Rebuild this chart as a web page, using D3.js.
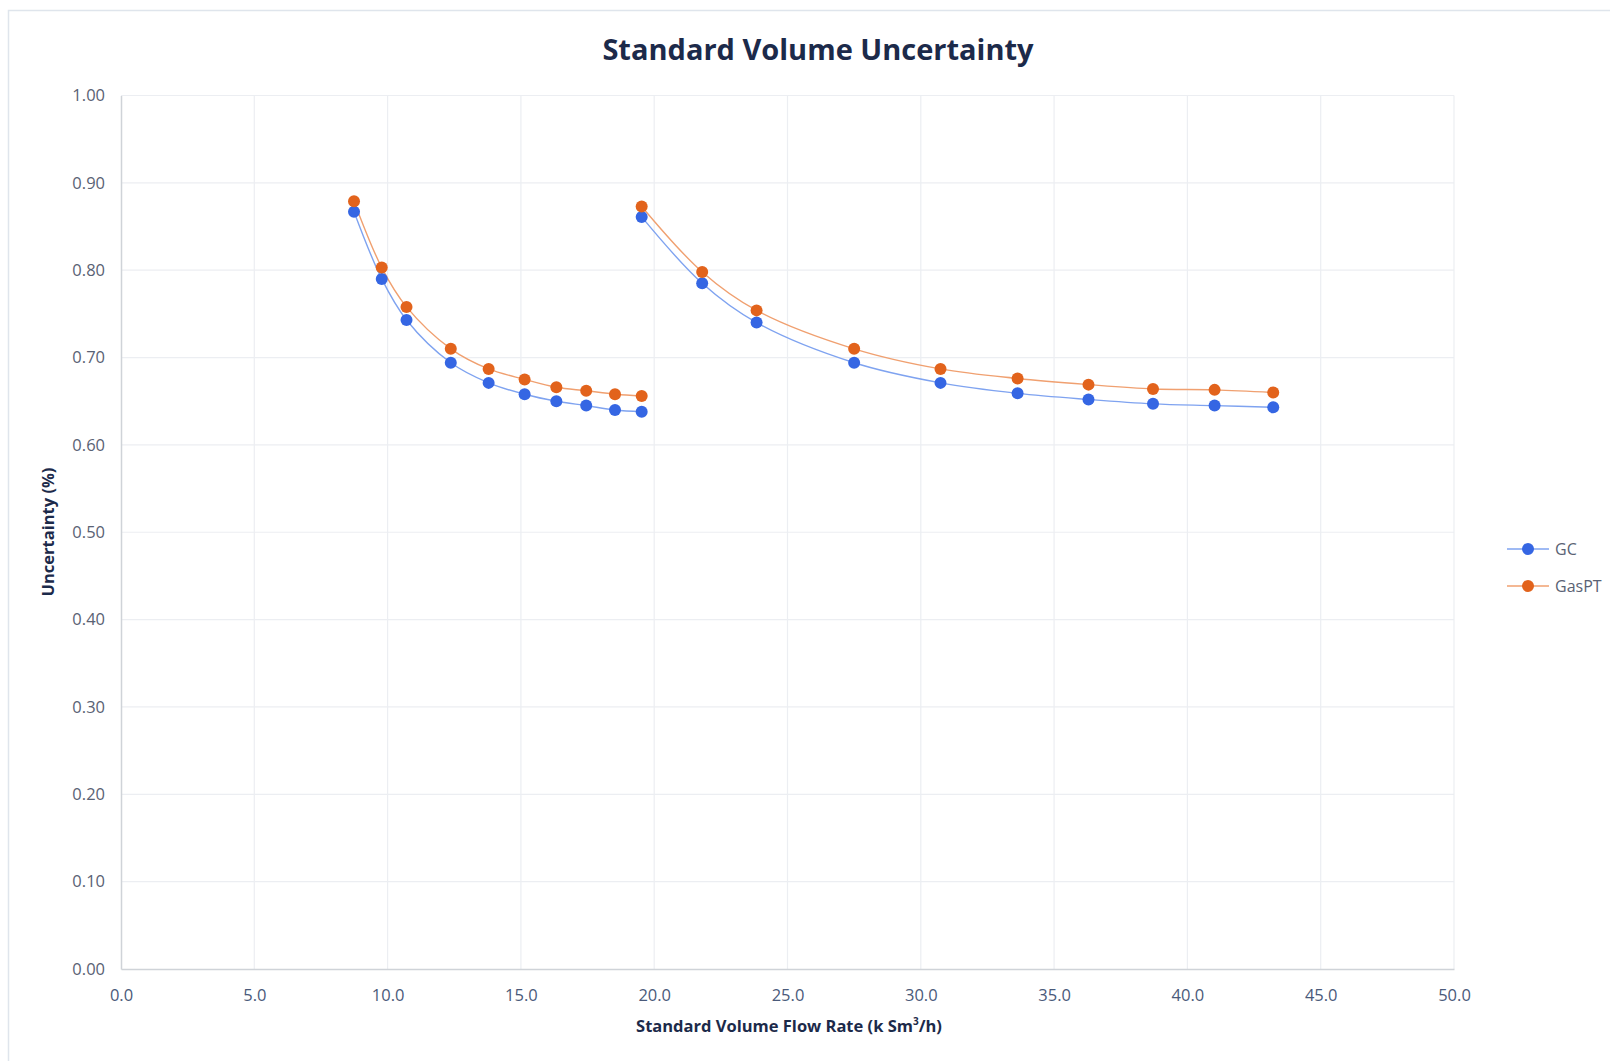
<!DOCTYPE html>
<html>
<head>
<meta charset="utf-8">
<script src="https://cdn.jsdelivr.net/npm/d3@7"></script>
<style>
  html, body { margin: 0; padding: 0; background: #ffffff; }
  svg { display: block; }
</style>
</head>
<body>
<svg id="chart" width="1610" height="1061"></svg>
<script>
// Flow rates (k Sm3/h) for the two meter runs
const flowLow  = [8.74, 9.78, 10.71, 12.37, 13.79, 15.14, 16.33, 17.45, 18.53, 19.53];
const flowHigh = [19.53, 21.80, 23.84, 27.50, 30.74, 33.63, 36.29, 38.71, 41.02, 43.22];

// Uncertainty (%) for each composition source
const gcLow     = [0.867, 0.790, 0.743, 0.694, 0.671, 0.658, 0.650, 0.645, 0.640, 0.638];
const gcHigh    = [0.861, 0.785, 0.740, 0.694, 0.671, 0.659, 0.652, 0.647, 0.645, 0.643];
const gasptLow  = [0.879, 0.803, 0.758, 0.710, 0.687, 0.675, 0.666, 0.662, 0.658, 0.656];
const gasptHigh = [0.873, 0.798, 0.754, 0.710, 0.687, 0.676, 0.669, 0.664, 0.663, 0.660];

const seriesNames = ["GC", "GasPT"];
const xTicks = [0, 5, 10, 15, 20, 25, 30, 35, 40, 45, 50];
const yTicks = [0, 0.1, 0.2, 0.3, 0.4, 0.5, 0.6, 0.7, 0.8, 0.9, 1.0];

const colors = {
  GC:    { marker: "#3566e3", line: "#7fa3f0" },
  GasPT: { marker: "#e2631c", line: "#f0a070" }
};

const svg = d3.select("#chart");
const plot = { left: 121, right: 1454, top: 95.5, bottom: 969 };

const x = d3.scaleLinear().domain([0, 50]).range([plot.left, plot.right]);
const y = d3.scaleLinear().domain([0, 1]).range([plot.bottom, plot.top]);

// outer chart frame
svg.append("rect")
  .attr("x", 8.5).attr("y", 10.5)
  .attr("width", 1620).attr("height", 1070)
  .attr("fill", "#ffffff")
  .attr("stroke", "#dfe5ec").attr("stroke-width", 1.5);

// title
svg.append("text")
  .attr("x", 818).attr("y", 60)
  .attr("text-anchor", "middle")
  .attr("font-family", "'Open Sans', sans-serif")
  .attr("font-weight", 700)
  .attr("font-size", 29)
  .attr("fill", "#1c2a4a")
  .text("Standard Volume Uncertainty");

// gridlines
const grid = svg.append("g");
grid.selectAll("line.h").data(yTicks.filter(d => d > 0)).join("line")
  .attr("x1", plot.left).attr("x2", plot.right)
  .attr("y1", d => y(d)).attr("y2", d => y(d))
  .attr("stroke", "#eceef2").attr("stroke-width", 1.2);
grid.selectAll("line.v").data(xTicks.filter(d => d > 0)).join("line")
  .attr("x1", d => x(d)).attr("x2", d => x(d))
  .attr("y1", plot.top).attr("y2", plot.bottom)
  .attr("stroke", "#eceef2").attr("stroke-width", 1.2);

// axes
const xAxis = svg.append("g")
  .attr("transform", `translate(0,${plot.bottom})`)
  .call(d3.axisBottom(x).tickValues(xTicks).tickFormat(d3.format(".1f")).tickSize(0).tickPadding(20));
const yAxis = svg.append("g")
  .attr("transform", `translate(${plot.left},0)`)
  .call(d3.axisLeft(y).tickValues(yTicks).tickFormat(d3.format(".2f")).tickSize(0).tickPadding(16));

[xAxis, yAxis].forEach(g => {
  g.select(".domain").attr("stroke", "#cfd3d8").attr("stroke-width", 1.5);
  g.selectAll("text")
    .attr("font-family", "'Open Sans', sans-serif")
    .attr("font-size", 16.5)
    .attr("fill", "#5a6274");
});
xAxis.selectAll("text").attr("fill", "#4a5a7a");

// axis titles
const xTitle = svg.append("text")
  .attr("x", 789).attr("y", 1032)
  .attr("text-anchor", "middle")
  .attr("font-family", "'Open Sans', sans-serif")
  .attr("font-weight", 700)
  .attr("font-size", 16.5)
  .attr("fill", "#1c2a4a");
xTitle.append("tspan").text("Standard Volume Flow Rate (k Sm");
xTitle.append("tspan").attr("dy", -7).attr("font-size", 10).text("3");
xTitle.append("tspan").attr("dy", 7).text("/h)");

svg.append("text")
  .attr("transform", "translate(54,532) rotate(-90)")
  .attr("text-anchor", "middle")
  .attr("font-family", "'Open Sans', sans-serif")
  .attr("font-weight", 700)
  .attr("font-size", 16.5)
  .attr("fill", "#1c2a4a")
  .text("Uncertainty (%)");

// series: each meter run drawn as its own segment
const runs = [
  { name: "GC",    xs: flowLow,  ys: gcLow },
  { name: "GC",    xs: flowHigh, ys: gcHigh },
  { name: "GasPT", xs: flowLow,  ys: gasptLow },
  { name: "GasPT", xs: flowHigh, ys: gasptHigh }
];

const line = d3.line()
  .x(d => x(d[0])).y(d => y(d[1]))
  .curve(d3.curveCatmullRom.alpha(0.5));

const lineLayer = svg.append("g");
const markLayer = svg.append("g");
runs.forEach(r => {
  const pts = r.xs.map((v, i) => [v, r.ys[i]]);
  lineLayer.append("path")
    .datum(pts)
    .attr("d", line)
    .attr("fill", "none")
    .attr("stroke", colors[r.name].line)
    .attr("stroke-width", 1.4);
  markLayer.selectAll(null).data(pts).join("circle")
    .attr("cx", d => x(d[0])).attr("cy", d => y(d[1]))
    .attr("r", 6)
    .attr("fill", colors[r.name].marker);
});

// legend
const legend = svg.append("g");
seriesNames.forEach((name, i) => {
  const ly = 549 + i * 37;
  legend.append("line")
    .attr("x1", 1507).attr("x2", 1549)
    .attr("y1", ly).attr("y2", ly)
    .attr("stroke", colors[name].line).attr("stroke-width", 1.6);
  legend.append("circle")
    .attr("cx", 1528).attr("cy", ly).attr("r", 6)
    .attr("fill", colors[name].marker);
  legend.append("text")
    .attr("x", 1555).attr("y", ly + 6)
    .attr("font-family", "'Open Sans', sans-serif")
    .attr("font-size", 16)
    .attr("fill", "#5a6274")
    .text(name);
});
</script>
</body>
</html>
